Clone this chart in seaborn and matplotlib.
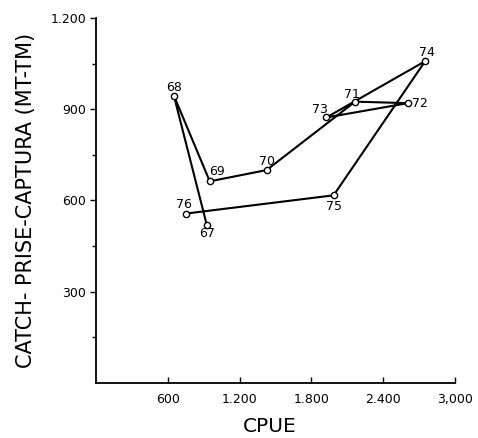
import matplotlib
matplotlib.use("Agg")
import matplotlib.pyplot as plt
import seaborn as sns
import pandas as pd
from matplotlib.ticker import FixedLocator

# Annual catch versus catch per unit effort, 1967-1976
years = ["67", "68", "69", "70", "71", "72", "73", "74", "75", "76"]
cpue = [925, 650, 950, 1425, 2165, 2605, 1925, 2750, 1985, 750]
catch = [520, 945, 663, 700, 925, 920, 873, 1058, 617, 557]

x_ticks = [600, 1200, 1800, 2400, 3000]
x_tick_labels = ["600", "1.200", "1.800", "2.400", "3,000"]
y_ticks = [300, 600, 900, 1200]
y_tick_labels = ["300", "600", "900", "1.200"]

df = pd.DataFrame({"year": years, "cpue": cpue, "catch": catch})

sns.set_style("white")
plt.rcParams["font.family"] = ["DejaVu Sans"]
plt.rcParams["text.color"] = "black"
plt.rcParams["axes.labelcolor"] = "black"
plt.rcParams["xtick.color"] = "black"
plt.rcParams["ytick.color"] = "black"

fig = plt.figure(figsize=(4.78, 4.38), dpi=100)
ax = fig.add_axes([0.201, 0.1256, 0.751, 0.8333])

sns.lineplot(data=df, x="cpue", y="catch", sort=False, estimator=None,
             color="black", linewidth=1.5, marker="o", markersize=4.5,
             markerfacecolor="white", markeredgecolor="black",
             markeredgewidth=1.0, ax=ax)

# year labels next to each point (offsets in points)
offsets = {
    "67": (0, -6.5), "68": (0, 6), "69": (5, 7), "70": (0, 6.5),
    "71": (-2, 5.5), "72": (3, 0), "73": (-4.5, 6), "74": (1.5, 6),
    "75": (0, -8), "76": (-1, 6.5),
}
for yr, xv, yv in zip(years, cpue, catch):
    dx, dy = offsets[yr]
    ax.annotate(yr, (xv, yv), xytext=(dx, dy), textcoords="offset points",
                ha="left" if yr == "72" else "center", va="center",
                fontsize=9, color="black")

ax.set_xlim(0, 3000)
ax.set_ylim(0, 1200)
ax.set_xticks(x_ticks)
ax.set_xticklabels(x_tick_labels)
ax.set_yticks(y_ticks)
ax.set_yticklabels(y_tick_labels)
ax.yaxis.set_minor_locator(FixedLocator([150, 450, 750, 1050]))

for side in ["top", "right"]:
    ax.spines[side].set_visible(False)
for side in ["left", "bottom"]:
    ax.spines[side].set_color("black")
    ax.spines[side].set_linewidth(1.3)

ax.tick_params(axis="y", which="major", direction="out", length=4, width=1,
               labelsize=9, pad=3, left=True)
ax.tick_params(axis="y", which="minor", direction="out", length=3, width=1,
               left=True)
ax.tick_params(axis="x", which="major", direction="in", length=4, width=1,
               labelsize=9, pad=7, bottom=True)

ax.set_xlabel("CPUE", fontsize=14.5)
ax.set_ylabel("CATCH- PRISE-CAPTURA (MT-TM)", fontsize=15)
ax.xaxis.set_label_coords(0.485, -0.094)
ax.yaxis.set_label_coords(-0.168, 0.499)

fig.savefig("out.png", dpi=100)
